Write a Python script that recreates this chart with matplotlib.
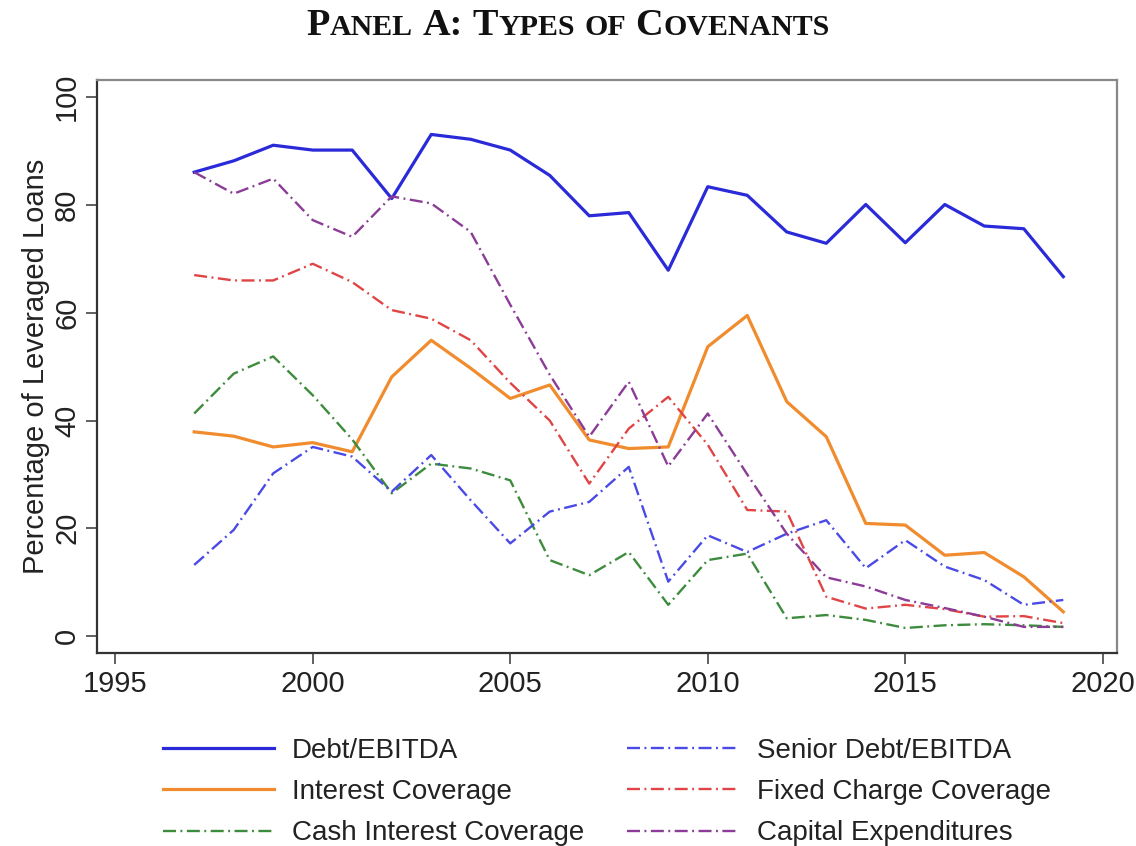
import matplotlib
matplotlib.use('Agg')
import matplotlib.pyplot as plt

#### data
years = list(range(1997, 2020))

debt_ebitda = [86.1, 88.2, 91.1, 90.2, 90.2, 81.2, 93.1, 92.2, 90.2, 85.5, 78.0, 78.6,
               67.9, 83.4, 81.8, 75.0, 72.9, 80.1, 73.0, 80.1, 76.1, 75.6, 66.7]
interest_cov = [37.9, 37.1, 35.1, 35.9, 34.2, 48.1, 54.9, 49.7, 44.1, 46.6, 36.4, 34.8,
                35.1, 53.7, 59.5, 43.5, 37.0, 20.9, 20.6, 15.0, 15.5, 11.0, 4.5]
cash_interest = [41.3, 48.7, 51.9, 44.7, 36.5, 26.5, 32.0, 31.1, 28.9, 14.1, 11.3, 15.6,
                 5.8, 14.1, 15.3, 3.3, 3.9, 3.0, 1.5, 2.0, 2.2, 2.0, 1.7]
senior_debt = [13.2, 19.7, 30.2, 35.1, 33.3, 26.8, 33.6, 25.2, 17.2, 23.1, 24.9, 31.4,
               10.1, 18.7, 15.6, 19.0, 21.5, 12.6, 17.8, 12.9, 10.4, 5.8, 6.7]
fixed_charge = [67.0, 66.0, 66.0, 69.1, 65.7, 60.5, 58.9, 54.9, 47.0, 40.0, 28.3, 38.5,
                44.4, 35.5, 23.4, 23.1, 7.3, 5.1, 5.8, 5.0, 3.6, 3.7, 2.4]
capex = [86.1, 82.1, 84.9, 77.2, 74.1, 81.6, 80.3, 75.0, 61.5, 48.5, 37.0, 47.2,
         31.5, 41.3, 30.0, 19.0, 10.9, 9.2, 6.7, 5.2, 3.6, 1.7, 1.7]

labels = ['Debt/EBITDA', 'Interest Coverage', 'Cash Interest Coverage',
          'Senior Debt/EBITDA', 'Fixed Charge Coverage', 'Capital Expenditures']

xticks = [1995, 2000, 2005, 2010, 2015, 2020]
yticks = [0, 20, 40, 60, 80, 100]

#### style
plt.rcParams['font.family'] = ['Liberation Sans', 'DejaVu Sans']

dashdot = (0, (5.5, 1.9, 0.8, 1.9))
series = [
    (debt_ebitda,   '#2a2ad8', '-',     2.3),
    (interest_cov,  '#f08c2e', '-',     2.3),
    (cash_interest, '#3d8b3d', dashdot, 1.7),
    (senior_debt,   '#4a4ae6', dashdot, 1.7),
    (fixed_charge,  '#e04444', dashdot, 1.7),
    (capex,         '#8b3c96', dashdot, 1.7),
]

#### plot
fig = plt.figure(figsize=(11.36, 8.46), dpi=100)
ax = fig.add_axes([0.0854, 0.2281, 0.8979, 0.6773])

handles = []
for vals, col, ls, lw in series:
    h, = ax.plot(years, vals, color=col, linestyle=ls, linewidth=lw)
    handles.append(h)

ax.set_xlim(1994.54, 2020.36)
ax.set_ylim(-3.15, 103.2)
ax.set_xticks(xticks)
ax.set_yticks(yticks)
ax.tick_params(direction='out', length=8, width=1.2, color='#444444', labelsize=21,
               labelcolor='#222222')
ax.tick_params(axis='x', pad=4)
for lab in ax.get_yticklabels():
    lab.set_rotation(90)
    lab.set_va('center')
for side, sp in ax.spines.items():
    if side in ('left', 'bottom'):
        sp.set_color('#333333')
    else:
        sp.set_color('#888888')
    sp.set_linewidth(1.6)

ax.set_ylabel('Percentage of Leveraged Loans', fontsize=21, color='#222222', labelpad=2)

# legend: column 1 solid / cash, column 2 the dash-dot ones
leg = fig.legend(handles, labels, ncol=2, loc='upper left', bbox_to_anchor=(0.1435, 0.128),
                 frameon=False, fontsize=20, handlelength=4.0, handletextpad=0.65,
                 columnspacing=1.55, labelspacing=0.55, borderaxespad=0, borderpad=0)
for t in leg.get_texts():
    t.set_color('#222222')

#### title in small caps
big, small = 27.5, 21.5
pieces = [('P', big), ('ANEL', small), (None, 0), ('A:', big), (None, 0),
          ('T', big), ('YPES', small), (None, 0), ('OF', small), (None, 0),
          ('C', big), ('OVENANTS', small)]
renderer = fig.canvas.get_renderer()
texts = []
x = 0.0
gap = 9
for s, size in pieces:
    if s is None:
        x += gap
        continue
    t = fig.text(0, 1 - 35 / 846, s, fontsize=size, fontweight='bold',
                 family='Liberation Serif', color='#111111', ha='left', va='baseline')
    w = t.get_window_extent(renderer).width
    texts.append((t, x))
    x += w + 0.5
total = x
start = 568 - total / 2
for t, off in texts:
    t.set_x((start + off) / 1136)

fig.savefig('out.png', dpi=100)
